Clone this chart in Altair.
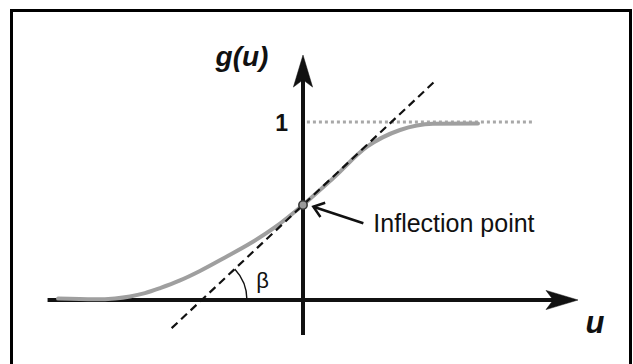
import math
import altair as alt
import pandas as pd

# Sigmoid response g(u), sampled along the u axis
curve_u = [-1.376, -1.169, -1.056, -0.972, -0.888, -0.803, -0.691, -0.579,
           -0.438, -0.298, -0.157, 0.0, 0.169, 0.360, 0.545, 0.730, 0.983]
curve_g = [0.008, 0.004, 0.009, 0.020, 0.039, 0.067, 0.110, 0.163,
           0.239, 0.317, 0.409, 0.534, 0.684, 0.861, 0.955, 0.990, 0.992]

# Inflection point and the tangent through it (slope = tan(beta))
inflection_u = 0.0
inflection_g = 0.534
tangent_slope = 0.938
tangent_u = [-0.738, 0.742]

# Saturation level g = 1
saturation_g = 1.0
saturation_u = [0.022, 1.303]

# Extent of the drawn coordinate axes
axis_u = [-1.435, 1.545]
axis_g = [-0.197, 1.376]

# Pointer from the label to the inflection point
pointer_u = [0.339, 0.058]
pointer_g = [0.431, 0.524]

# ---- layout -------------------------------------------------------------
W, H = 633, 364
PX = 178.0                 # pixels per unit, same on both axes
ORIGIN_X, ORIGIN_Y = 303, 300

xscale = alt.Scale(domain=[-ORIGIN_X / PX, (W - ORIGIN_X) / PX], nice=False, zero=False)
yscale = alt.Scale(domain=[-(H - ORIGIN_Y) / PX, ORIGIN_Y / PX], nice=False, zero=False)


def X(field="u"):
    return alt.X(f"{field}:Q", scale=xscale, axis=None)


def Y(field="g"):
    return alt.Y(f"{field}:Q", scale=yscale, axis=None)


INK = "#111111"
ARROW_HALF = 16  # px, half length of an arrowhead symbol
ARROW_PATH = "M1,0 L-1,-0.6 L-0.55,0 L-1,0.6 Z"

# frame around the figure
frame = alt.Chart(pd.DataFrame({"k": [0]})).mark_rect(
    fill=None, stroke="black", strokeWidth=3
).encode(x=alt.value(11.5), x2=alt.value(630.5), y=alt.value(10.5), y2=alt.value(400))

# dotted saturation line
sat = alt.Chart(pd.DataFrame({"u": saturation_u[:1], "u2": saturation_u[1:], "g": [saturation_g]})).mark_rule(
    color="#a8a8a8", strokeWidth=3, strokeDash=[3, 3]
).encode(x=X(), x2="u2:Q", y=Y())

# coordinate axes (shafts end under the arrowheads)
h_axis = alt.Chart(pd.DataFrame({
    "u": [axis_u[0]], "u2": [axis_u[1] - 2 * ARROW_HALF / PX * 0.6], "g": [0.0]
})).mark_rule(color=INK, strokeWidth=4).encode(x=X(), x2="u2:Q", y=Y())

v_axis = alt.Chart(pd.DataFrame({
    "u": [0.0], "g": [axis_g[0]], "g2": [axis_g[1] - 2 * ARROW_HALF / PX * 0.6]
})).mark_rule(color=INK, strokeWidth=4).encode(x=X(), y=Y(), y2="g2:Q")

heads = alt.Chart(pd.DataFrame({
    "u": [axis_u[1] - ARROW_HALF / PX, 0.0],
    "g": [0.0, axis_g[1] - ARROW_HALF / PX],
    "a": [0, 270],
})).mark_point(
    shape=ARROW_PATH, filled=True, fill=INK, stroke=INK, strokeWidth=0.5,
    size=(2 * ARROW_HALF) ** 2, opacity=1
).encode(x=X(), y=Y(), angle=alt.Angle("a:Q", scale=None))

# the sigmoid curve
curve = alt.Chart(pd.DataFrame({"u": curve_u, "g": curve_g})).mark_line(
    color="#9f9f9f", strokeWidth=4, interpolate="monotone", strokeCap="round"
).encode(x=X(), y=Y(), order="u:Q")

# dashed tangent at the inflection point
tangent = alt.Chart(pd.DataFrame({
    "u": tangent_u,
    "g": [inflection_g + tangent_slope * (t - inflection_u) for t in tangent_u],
})).mark_line(color=INK, strokeWidth=2.2, strokeDash=[8, 5]).encode(x=X(), y=Y())

# angle beta between tangent and u axis
beta = math.atan(tangent_slope)
crossing_u = inflection_u - inflection_g / tangent_slope
arc = alt.Chart(pd.DataFrame({"u": [crossing_u], "g": [0.0]})).mark_arc(
    radius=46, radius2=44.6, theta=math.pi / 2 - beta, theta2=math.pi / 2, color=INK
).encode(x=X(), y=Y())

# inflection point marker
point = alt.Chart(pd.DataFrame({"u": [inflection_u], "g": [inflection_g]})).mark_point(
    shape="circle", size=70, filled=True, fill="#9a9a9a", stroke="#333333",
    strokeWidth=1.5, opacity=1
).encode(x=X(), y=Y())

# pointer arrow to the inflection point
ptr = alt.Chart(pd.DataFrame({
    "u": [pointer_u[0]], "g": [pointer_g[0]], "u2": [pointer_u[1]], "g2": [pointer_g[1]]
})).mark_rule(color=INK, strokeWidth=2.5).encode(x=X(), y=Y(), x2="u2:Q", y2="g2:Q")

ptr_angle = math.degrees(math.atan2(-(pointer_g[1] - pointer_g[0]), pointer_u[1] - pointer_u[0])) % 360
ptr_head = alt.Chart(pd.DataFrame({"u": [pointer_u[1]], "g": [pointer_g[1]]})).mark_point(
    shape="M-1,-0.75 L0,0 L-1,0.75", filled=False, stroke=INK, strokeWidth=2.5,
    size=400, angle=ptr_angle, opacity=1, strokeJoin="miter"
).encode(x=X(), y=Y())

FONT = "Liberation Sans"


def label(text, u, g, size, weight="normal", style="normal", align="center", dx=0, dy=0):
    return alt.Chart(pd.DataFrame({"u": [u], "g": [g], "t": [text]})).mark_text(
        font=FONT, fontSize=size, fontWeight=weight, fontStyle=style, align=align,
        baseline="alphabetic", color=INK, dx=dx, dy=dy
    ).encode(x=X(), y=Y(), text="t:N")


labels = [
    label("g(u)", 0.0, axis_g[1], 28, "bold", "italic", dx=-61, dy=11),
    label("1", 0.0, saturation_g, 23, "bold", align="right", dx=-15, dy=9),
    label("u", axis_u[1], 0.0, 31, "bold", "italic", dx=17, dy=33),
    label("Inflection point", pointer_u[0], inflection_g, 25, align="left", dx=10, dy=27),
    label("β", crossing_u, 0.0, 22, dx=61, dy=-12),
]

chart = alt.layer(
    frame, sat, h_axis, v_axis, heads, curve, tangent, arc, point, ptr, ptr_head, *labels
).properties(
    width=W, height=H, padding=0, autosize=alt.AutoSizeParams(type="none"),
    background="white"
).configure_view(stroke=None)

chart.save("out.html", embed_options={"renderer": "svg", "actions": False})
